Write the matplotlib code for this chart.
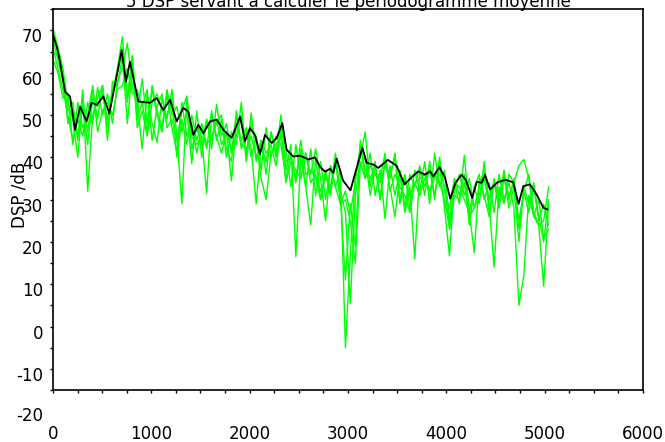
import numpy as np
import matplotlib
matplotlib.use('Agg')
import matplotlib.pyplot as plt
from matplotlib.transforms import ScaledTranslation
from matplotlib.ticker import MultipleLocator

plt.rcParams['font.family'] = ['DejaVu Sans']
plt.rcParams['axes.unicode_minus'] = False

title = "5 DSP servant à calculer le périodogramme moyenne"
ylabel = "DSP /dB"
x_ticks = [0, 1000, 2000, 3000, 4000, 5000, 6000]
y_ticks = [-10, 0, 10, 20, 30, 40, 50, 60, 70]
y_extra_label = -20

# frequency grid of the five individual spectra (Hz)
green_freq = np.linspace(0, 5040, 101)

green1 = [70.5, 66, 61, 53, 49, 40, 54, 46, 56, 49,
          57, 47, 55, 61, 68.5, 54, 64, 50, 58.5, 48,
          56, 50, 46, 55, 47, 41, 53, 45, 48, 41,
          47, 42, 51, 44, 49, 40, 46, 43, 53, 40,
          50.5, 39, 44, 36, 46, 41, 50, 37, 43, 16.5,
          40, 33, 42, 31, 39, 30, 38, 33, 37, -5,
          17, 36, 40, 46, 33, 39, 30, 40, 35, 41,
          30, 36, 28, 37, 32, 39, 29, 41, 33, 37,
          25, 34, 29, 40.5, 27, 33, 29, 39, 27, 35,
          29, 37, 30, 35, 25, 32, 27, 33, 25, 29,
          24]
green2 = [66, 61, 56, 50, 44, 49, 45, 53, 48, 56.5,
          50, 55, 48, 58, 61, 67, 57, 53, 42, 55,
          48, 43.5, 54, 49, 56, 45, 29, 54, 42, 47,
          43, 49, 42, 52.5, 45, 48, 41, 50, 42, 46,
          40, 45, 37, 47, 40, 45, 43, 35, 41, 34,
          42, 33, 24, 40, 30, 37, 31, 40, 32, 27,
          5.5, 31, 39, 35, 41, 31, 37, 25.5, 38, 31,
          37, 28, 36, 33, 38, 31, 39, 30, 40, 32,
          28, 35, 31, 36, 24, 33, 36, 30, 34, 27,
          36, 30, 34, 28, 5, 12, 31, 26, 30, 21,
          23]
green3 = [68, 63, 58, 51, 53, 44, 56, 32, 50, 54,
          57, 44, 58, 57, 64, 48, 61, 49, 53, 46,
          57, 51, 47, 56, 50, 52, 46, 51, 38.5, 51,
          40, 49, 44, 49, 43, 46, 34.5, 48, 44, 47,
          42, 29, 43, 39, 46, 40, 47, 42, 33, 43,
          35, 41, 36, 42, 35, 25, 38, 33, 29, 32,
          27, 34, 43, 37, 35, 38, 30, 39, 33, 26,
          36, 27, 33, 16, 37, 33, 37, 31, 38, 33,
          24, 32, 36, 31, 35, 28, 33, 37, 30, 34,
          28, 35, 31, 34, 23, 32, 36, 27, 24, 9.5,
          29]
green4 = [63, 60, 54, 55, 43, 53, 47, 50, 57, 46,
          51, 53, 50, 56, 57, 61, 55, 56, 52, 56,
          44, 52, 55, 47, 49, 44, 51, 54.5, 45, 43,
          45, 31.5, 50, 45, 41, 46, 42, 45, 50, 39,
          48, 44, 35, 30, 41, 43, 45, 39, 40, 35,
          44, 36, 37, 35, 30, 36, 32, 39, 30, 11,
          29, 19, 44, 35, 38, 36, 34, 38, 36, 40,
          29, 35, 31, 34, 35, 36, 32, 35, 38, 28,
          16.7, 34, 33, 30, 27, 17.5, 35, 31, 26, 34,
          31, 36, 28, 33, 20, 33, 29, 34, 26, 20,
          30]
green5 = [69, 65, 60, 48, 51, 45, 52, 43, 54, 52,
          55, 49, 56, 60, 66, 53, 64, 47, 51, 45,
          53, 55, 51, 50, 54, 40, 49, 43, 50, 44,
          48, 43, 45, 48, 50, 42, 39, 51, 43, 42,
          45, 40, 44, 41, 43, 38, 46, 34, 39, 37,
          35, 41, 34, 36, 32, 35, 33, 41, 29, 30,
          25, 15, 38, 40, 31, 37, 35, 41, 32, 36,
          33, 31, 27, 34, 31, 35, 32, 36, 34, 30,
          23, 31, 30, 34, 26, 28, 31, 35, 29, 14,
          33, 29, 36, 34, 38, 39.5, 35, 26, 24, 25,
          33]

# averaged periodogram (black)
black_freq = [0, 40, 71, 122, 173, 224, 275, 342, 393, 444, 512, 573, 630, 698,
              742, 783, 868, 986, 1054, 1122, 1190, 1258, 1325, 1376, 1427, 1478,
              1529, 1597, 1665, 1732, 1817, 1902, 1953, 2003, 2054, 2105, 2156,
              2224, 2275, 2332, 2376, 2444, 2512, 2597, 2664, 2715, 2766, 2817,
              2851, 2885, 2950, 3025, 3088, 3146, 3190, 3258, 3309, 3405, 3495,
              3575, 3648, 3715, 3783, 3834, 3868, 3929, 3987, 4040, 4093, 4156,
              4200, 4263, 4309, 4360, 4393, 4444, 4520, 4600, 4680, 4735, 4783,
              4851, 4919, 4986, 5027]
black_db = [69, 66, 62.6, 55.5, 54.4, 46.5, 52, 48.5, 52.9, 52.4, 54.4, 50.4, 57.1, 65.3,
            57.9, 62.6, 53.2, 52.9, 54, 51.2, 53.6, 48.5, 51.7, 50.8, 45.3, 47.7,
            45.7, 48.5, 48.9, 46.5, 44.6, 49.6, 43.8, 46.9, 45.3, 40.8, 45.3,
            43.4, 44.6, 48.1, 41.8, 40.2, 40.4, 39.5, 40, 37.8, 36.6, 37.3,
            36.3, 39.7, 34.5, 32.2, 37.5, 42.3, 38.7, 38.3, 37.5, 39.4, 38,
            33.6, 35.3, 36.7, 35.9, 36.7, 35.5, 37.7, 35.2, 30.2, 34, 35.9,
            34.6, 30.4, 34.2, 34, 35.9, 32.4, 34.1, 34.7, 34.1, 29, 33.2,
            33.6, 31.2, 28.1, 27.7]

W, H = 665, 442
fig = plt.figure(figsize=(W / 100, H / 100), dpi=100)
ax = fig.add_axes([53 / W, 1 - 390 / H, 590 / W, (390 - 9.3) / H])

for g in [green1, green2, green3, green4, green5]:
    ax.plot(green_freq, g, color='#00ff00', lw=1.0)
ax.plot(black_freq, black_db, color='black', lw=1.3)

ax.set_xlim(0, 6000)
ax.set_ylim(-15, 75)
ax.set_xticks(x_ticks)
ax.set_xticklabels([str(v) for v in x_ticks])
ax.xaxis.set_minor_locator(MultipleLocator(250))
ax.set_yticks(y_ticks)
ax.set_yticklabels([str(v) for v in y_ticks])
ax.yaxis.set_minor_locator(MultipleLocator(5))
ax.tick_params(which='both', direction='out', length=2.2, width=1.0,
               top=False, right=False, labelsize=12, colors='black')
ax.tick_params(axis='x', which='major', pad=23)
ax.tick_params(axis='y', which='major', pad=5)
for sp in ax.spines.values():
    sp.set_linewidth(1.2)
    sp.set_color('black')

off = ScaledTranslation(0, -5 / 100, fig.dpi_scale_trans)
for t in ax.yaxis.get_major_ticks():
    t.label1.set_transform(t.label1.get_transform() + off)

ax.text(0, y_extra_label, str(y_extra_label), fontsize=12, ha='right', va='center',
        transform=ax.get_yaxis_transform() + ScaledTranslation(-10 / 100, -5 / 100, fig.dpi_scale_trans),
        clip_on=False)

fig.text(348 / W, 1 - 7 / H, title, ha='center', va='baseline', fontsize=12)
fig.text(19 / W, 1 - 195 / H, ylabel, rotation=90, ha='center', va='center', fontsize=12)

fig.savefig('out.png', dpi=100)
